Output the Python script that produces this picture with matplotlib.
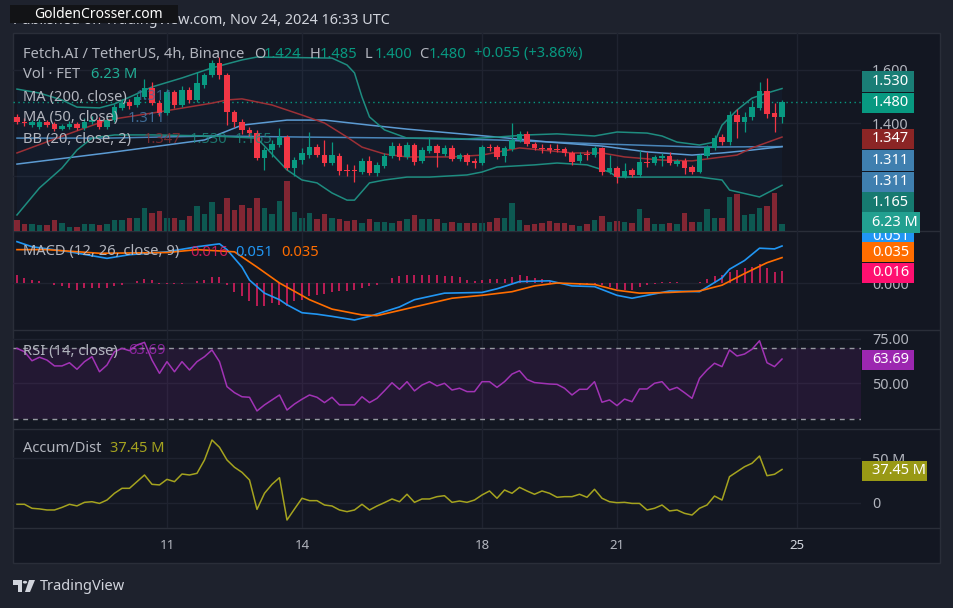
import matplotlib
matplotlib.use('Agg')
import matplotlib.pyplot as plt
from matplotlib.patches import Rectangle, Polygon, Circle
from matplotlib.lines import Line2D

plt.rcParams['font.family'] = ['Noto Sans', 'DejaVu Sans']

W, H = 954, 608
BG = '#131722'
FRAME = '#1E222D'
TEXT = '#B2B5BE'
UP = '#089981'
DOWN = '#F23645'
GRID = '#1F2330'
SEP = '#2A2E39'

# FET/USDT 4h candles, Nov 7 16:00 -> Nov 24 16:00
opens = [1.424, 1.405, 1.392, 1.384, 1.404, 1.396, 1.377, 1.385, 1.396, 1.381,
         1.404, 1.411, 1.385, 1.411, 1.457, 1.479, 1.468, 1.498, 1.532, 1.475,
         1.438, 1.517, 1.468, 1.525, 1.487, 1.543, 1.581, 1.626, 1.581, 1.442,
         1.404, 1.374, 1.362, 1.268, 1.298, 1.317, 1.347, 1.230, 1.260, 1.279,
         1.309, 1.279, 1.249, 1.276, 1.223, 1.223, 1.215, 1.257, 1.211, 1.238,
         1.276, 1.313, 1.272, 1.317, 1.257, 1.294, 1.313, 1.283, 1.306, 1.264,
         1.279, 1.257, 1.249, 1.309, 1.309, 1.276, 1.302, 1.336, 1.359, 1.321,
         1.306, 1.306, 1.302, 1.302, 1.287, 1.257, 1.283, 1.279, 1.306, 1.215,
         1.230, 1.196, 1.223, 1.204, 1.253, 1.249, 1.268, 1.276, 1.245, 1.257,
         1.234, 1.215, 1.276, 1.306, 1.347, 1.328, 1.430, 1.404, 1.423, 1.457,
         1.521, 1.438, 1.424]
highs = [1.434, 1.419, 1.411, 1.415, 1.411, 1.404, 1.396, 1.408, 1.404, 1.419,
         1.426, 1.423, 1.426, 1.472, 1.491, 1.491, 1.509, 1.566, 1.555, 1.487,
         1.528, 1.525, 1.540, 1.536, 1.592, 1.589, 1.638, 1.649, 1.589, 1.449,
         1.415, 1.385, 1.374, 1.309, 1.336, 1.381, 1.355, 1.272, 1.306, 1.366,
         1.321, 1.336, 1.328, 1.287, 1.245, 1.242, 1.268, 1.276, 1.253, 1.287,
         1.328, 1.325, 1.328, 1.325, 1.309, 1.347, 1.321, 1.317, 1.317, 1.287,
         1.287, 1.268, 1.317, 1.321, 1.317, 1.313, 1.400, 1.370, 1.370, 1.328,
         1.321, 1.321, 1.321, 1.309, 1.294, 1.291, 1.298, 1.313, 1.309, 1.279,
         1.238, 1.249, 1.230, 1.298, 1.291, 1.279, 1.287, 1.291, 1.264, 1.268,
         1.242, 1.283, 1.317, 1.355, 1.359, 1.445, 1.453, 1.442, 1.487, 1.555,
         1.570, 1.475, 1.485]
lows = [1.396, 1.389, 1.385, 1.377, 1.385, 1.370, 1.374, 1.377, 1.374, 1.374,
        1.396, 1.377, 1.377, 1.404, 1.449, 1.453, 1.460, 1.491, 1.468, 1.426,
        1.430, 1.457, 1.460, 1.475, 1.479, 1.532, 1.574, 1.566, 1.392, 1.385,
        1.359, 1.351, 1.260, 1.223, 1.272, 1.309, 1.223, 1.200, 1.245, 1.268,
        1.272, 1.238, 1.242, 1.204, 1.200, 1.177, 1.208, 1.204, 1.200, 1.230,
        1.268, 1.260, 1.264, 1.242, 1.249, 1.287, 1.234, 1.276, 1.257, 1.257,
        1.242, 1.230, 1.242, 1.294, 1.264, 1.253, 1.294, 1.328, 1.313, 1.298,
        1.287, 1.287, 1.291, 1.276, 1.242, 1.249, 1.260, 1.272, 1.204, 1.208,
        1.174, 1.192, 1.196, 1.196, 1.234, 1.242, 1.238, 1.242, 1.238, 1.208,
        1.208, 1.211, 1.268, 1.298, 1.317, 1.317, 1.343, 1.366, 1.411, 1.449,
        1.419, 1.366, 1.400]
closes = [1.405, 1.400, 1.404, 1.405, 1.392, 1.377, 1.389, 1.396, 1.381, 1.405,
          1.411, 1.385, 1.411, 1.462, 1.475, 1.464, 1.499, 1.532, 1.475, 1.438,
          1.517, 1.468, 1.525, 1.487, 1.551, 1.581, 1.626, 1.581, 1.442, 1.404,
          1.374, 1.362, 1.268, 1.298, 1.321, 1.347, 1.230, 1.260, 1.287, 1.309,
          1.279, 1.249, 1.279, 1.219, 1.219, 1.219, 1.257, 1.211, 1.242, 1.276,
          1.313, 1.272, 1.317, 1.253, 1.298, 1.313, 1.287, 1.306, 1.264, 1.279,
          1.253, 1.249, 1.309, 1.306, 1.272, 1.306, 1.336, 1.359, 1.321, 1.306,
          1.302, 1.298, 1.298, 1.287, 1.253, 1.279, 1.279, 1.306, 1.215, 1.230,
          1.196, 1.219, 1.204, 1.253, 1.249, 1.272, 1.276, 1.249, 1.257, 1.230,
          1.215, 1.279, 1.309, 1.343, 1.328, 1.430, 1.404, 1.423, 1.460, 1.521,
          1.434, 1.423, 1.480]
volumes = [9.5, 6.2, 6.2, 5.3, 5.3, 9.8, 7.1, 3.6, 3.6, 6.2,
           6.2, 5.3, 6.2, 9.8, 9.8, 11.6, 11.6, 20.5, 16.0, 17.8,
           11.6, 11.6, 9.8, 13.4, 22.3, 15.1, 25.8, 15.1, 29.4, 18.7,
           23.1, 20.5, 29.4, 20.5, 15.1, 26.7, 44.5, 16.9, 11.6, 16.0,
           10.7, 15.1, 11.6, 10.7, 8.9, 9.8, 7.1, 10.7, 8.0, 8.0,
           7.1, 8.9, 10.7, 14.2, 10.7, 10.7, 10.7, 7.1, 8.0, 7.1,
           7.1, 7.1, 7.4, 8.3, 11.8, 11.8, 25.2, 9.8, 5.3, 6.0,
           6.9, 8.9, 7.4, 7.4, 5.3, 4.5, 6.2, 9.8, 13.4, 8.3,
           8.9, 8.3, 6.9, 19.6, 11.8, 6.2, 6.2, 7.4, 6.2, 16.3,
           8.3, 8.3, 19.6, 11.8, 11.8, 30.5, 32.9, 14.2, 15.1, 20.7,
           22.5, 34.1, 6.23]

# overlay lines: (candle index, value)
bb_upper = [(0, 1.528), (3, 1.513), (6, 1.487), (8, 1.460), (11, 1.457), (13, 1.472),
            (18, 1.536), (22, 1.570), (26, 1.608), (30, 1.638), (32, 1.649), (42, 1.645),
            (44, 1.619), (45, 1.589), (46, 1.498), (47, 1.423), (49, 1.374), (52, 1.343),
            (56, 1.343), (60, 1.340), (64, 1.347), (68, 1.355), (72, 1.359), (77, 1.351),
            (80, 1.366), (84, 1.362), (86, 1.351), (88, 1.328), (91, 1.317), (93, 1.328),
            (94, 1.392), (96, 1.449), (98, 1.494), (100, 1.513), (102, 1.530)]
bb_basis = [(0, 1.287), (6, 1.350), (12, 1.411), (19, 1.442), (26, 1.475), (28, 1.487),
            (30, 1.491), (34, 1.468), (38, 1.430), (41, 1.400), (44, 1.347), (46, 1.309),
            (49, 1.283), (52, 1.272), (58, 1.272), (62, 1.279), (67, 1.306), (70, 1.298),
            (74, 1.287), (78, 1.287), (81, 1.272), (86, 1.260), (90, 1.257), (93, 1.268),
            (96, 1.279), (98, 1.306), (102, 1.347)]
bb_lower = [(0, 1.053), (3, 1.155), (6, 1.230), (8, 1.298), (10, 1.343), (13, 1.355),
            (18, 1.355), (26, 1.351), (32, 1.343), (36, 1.223), (38, 1.185), (40, 1.174),
            (42, 1.136), (44, 1.109), (45, 1.109), (47, 1.174), (49, 1.185), (52, 1.196),
            (55, 1.196), (60, 1.204), (62, 1.215), (64, 1.234), (69, 1.242), (72, 1.249),
            (76, 1.242), (79, 1.215), (80, 1.196), (86, 1.196), (91, 1.196), (94, 1.185),
            (95, 1.147), (99, 1.121), (102, 1.165)]
ma50 = [(0, 1.245), (12, 1.287), (25, 1.336), (30, 1.392), (36, 1.411), (41, 1.411),
        (47, 1.392), (52, 1.377), (64, 1.347), (71, 1.328), (78, 1.313), (84, 1.291),
        (90, 1.279), (94, 1.287), (98, 1.298), (102, 1.311)]
ma200 = [(0, 1.343), (12, 1.343), (26, 1.351), (38, 1.347), (52, 1.343), (64, 1.336),
         (78, 1.321), (91, 1.309), (102, 1.311)]

macd_line = [(0, 0.057), (2, 0.050), (7, 0.043), (12, 0.034), (15, 0.039), (20, 0.043),
             (24, 0.050), (27, 0.054), (28, 0.046), (30, 0.022), (31, 0.004), (33, -0.014),
             (35, -0.023), (36, -0.030), (38, -0.041), (40, -0.043), (42, -0.046), (45, -0.051),
             (47, -0.046), (51, -0.033), (53, -0.023), (57, -0.014), (62, -0.013), (64, -0.008),
             (67, 0.002), (71, 0.003), (74, -0.004), (77, -0.005), (80, -0.017), (82, -0.021),
             (85, -0.015), (87, -0.011), (91, -0.012), (94, 0.007), (95, 0.019), (97, 0.031),
             (99, 0.048), (101, 0.047), (102, 0.051)]
signal_line = [(0, 0.046), (4, 0.046), (11, 0.041), (20, 0.042), (24, 0.046), (29, 0.043),
               (32, 0.022), (35, 0.000), (39, -0.023), (42, -0.036), (46, -0.044), (48, -0.045),
               (53, -0.033), (58, -0.021), (62, -0.017), (66, -0.012), (69, -0.004), (72, 0.000),
               (77, -0.002), (80, -0.010), (83, -0.014), (87, -0.013), (91, -0.011), (94, -0.003),
               (97, 0.013), (100, 0.028), (102, 0.035)]
macd_hist = [0.0114, 0.0069, 0.0046, 0.0023, 0.0, -0.0023, -0.0046, -0.0069, -0.0092, -0.0069,
             -0.0069, -0.0069, -0.0069, -0.0046, -0.0023, 0.0, 0.0023, 0.0055, 0.0037, -0.001,
             -0.001, -0.001, -0.001, 0.0, 0.0023, 0.0037, 0.0083, 0.0083, -0.0023, -0.0128,
             -0.0183, -0.0252, -0.0321, -0.0321, -0.0276, -0.0299, -0.0313, -0.0252, -0.023, -0.0183,
             -0.0161, -0.0148, -0.0128, -0.0114, -0.0114, -0.0092, -0.0069, -0.0046, -0.0023, 0.0,
             0.0069, 0.0092, 0.0114, 0.0114, 0.0114, 0.0114, 0.0114, 0.0101, 0.0092, 0.0079,
             0.0046, 0.0032, 0.0037, 0.0051, 0.0051, 0.0059, 0.0083, 0.0106, 0.0092, 0.0069,
             0.0059, 0.0028, 0.0014, 0.0, -0.001, -0.0023, -0.0023, -0.0023, -0.0032, -0.0055,
             -0.0079, -0.0092, -0.0101, -0.0055, -0.0032, -0.001, 0.0014, 0.0014, 0.0014, 0.0,
             0.0, 0.0014, 0.0059, 0.0092, 0.0106, 0.0152, 0.0183, 0.0211, 0.0221, 0.0266,
             0.0211, 0.0152, 0.016]
rsi = [69.7, 67.8, 62.7, 64.7, 63.1, 59.8, 59.8, 61.6, 57.9, 62.2,
       65.0, 56.5, 60.3, 67.8, 69.7, 68.4, 71.6, 73.1, 63.1, 55.6,
       62.2, 56.5, 62.2, 57.5, 62.2, 65.0, 68.8, 62.2, 48.1, 44.7,
       42.4, 42.1, 34.4, 37.8, 40.6, 43.4, 34.9, 38.3, 41.0, 43.4,
       42.1, 39.1, 42.1, 37.8, 37.8, 37.8, 42.4, 39.1, 41.5, 45.8,
       50.3, 46.6, 50.9, 45.7, 49.0, 50.9, 48.5, 50.0, 46.2, 47.2,
       45.3, 45.3, 50.9, 50.9, 47.7, 50.9, 55.2, 57.1, 52.2, 50.4,
       50.0, 49.6, 49.4, 47.2, 43.4, 46.6, 46.6, 50.9, 39.3, 40.6,
       37.4, 41.1, 39.6, 46.8, 46.8, 50.0, 50.9, 46.2, 47.7, 44.7,
       41.5, 52.8, 57.5, 61.3, 59.4, 68.8, 65.4, 66.5, 69.2, 74.0,
       61.6, 59.4, 63.69]
accum_dist = [-1.8, -1.8, -6.3, -7.0, -8.2, -8.2, -5.3, -1.8, -3.6, 0.4,
              1.1, -0.8, 3.0, 10.6, 16.2, 16.2, 23.7, 31.2, 20.7, 20.0,
              26.3, 23.7, 32.3, 31.2, 33.1, 48.1, 70.6, 62.4, 48.1, 39.9,
              34.2, 25.6, -7.5, 10.6, 20.7, 28.2, -19.5, -7.1, 5.0, 2.3,
              2.3, -2.6, -3.7, -8.2, -10.1, -8.2, -1.8, -8.2, -3.7, 0.1,
              4.2, 1.1, 9.5, 0.4, 4.2, 4.2, 6.8, 7.9, 0.4, 1.9,
              0.4, 3.0, 8.7, 13.2, 5.0, 14.3, 10.6, 17.3, 13.2, 9.5,
              13.2, 10.6, 6.1, 6.8, 6.8, 9.5, 6.1, 15.1, 5.0, 1.1,
              0.0, 0.4, -0.8, -0.8, -8.2, -6.3, -2.6, -9.3, -8.2, -12.0,
              -13.9, -6.3, -2.6, 7.5, 3.0, 29.3, 34.9, 40.5, 44.4, 52.6,
              30.4, 32.0, 37.45]

day_ticks = [20, 38, 62, 80, 104]
day_labels = ['11', '14', '18', '21', '25']


def fx(x):
    return x / W


def fy(y):
    return 1 - y / H


fig = plt.figure(figsize=(W / 100, H / 100), dpi=100, facecolor=FRAME)
fig.add_artist(Rectangle((fx(13), fy(563)), fx(940) - fx(13), (563 - 33) / H,
                         transform=fig.transFigure, facecolor=BG, edgecolor=SEP,
                         lw=1, zorder=-10))
for y in [231, 330, 429, 528]:
    fig.add_artist(Line2D([fx(13), fx(940)], [fy(y), fy(y)], color=SEP, lw=1,
                          transform=fig.transFigure, zorder=-5))


def pane(y0, y1, sharex=None):
    ax = fig.add_axes([fx(13), fy(y1), fx(861) - fx(13), (y1 - y0) / H],
                      sharex=sharex)
    ax.set_facecolor('none')
    for s in ax.spines.values():
        s.set_visible(False)
    ax.tick_params(length=0, labelsize=10.3, labelcolor=TEXT, pad=8)
    ax.yaxis.tick_right()
    ax.set_xticks(day_ticks)
    ax.grid(True, color=GRID, lw=1)
    ax.set_axisbelow(True)
    return ax


ax_vol = pane(33, 231)
ax_vol.grid(False)
ax_vol.set_yticks([])
ax_main = pane(33, 231, sharex=ax_vol)
ax_macd = pane(231, 330, sharex=ax_vol)
ax_rsi = pane(330, 429, sharex=ax_vol)
ax_ad = pane(429, 528, sharex=ax_vol)
ax_vol.set_xlim(-0.53, 112.53)
for ax in [ax_vol, ax_main, ax_macd, ax_rsi]:
    ax.tick_params(labelbottom=False)

n = len(closes)
idx = list(range(n))
cols = [UP if c >= o else DOWN for o, c in zip(opens, closes)]

# volume
ax_vol.bar(idx, volumes, width=0.78, color=cols, alpha=0.5)
ax_vol.set_ylim(0, 176)

# bollinger fill + lines, moving averages
fill_x = [p[0] for p in bb_upper] + [p[0] for p in bb_lower][::-1]
fill_y = [p[1] for p in bb_upper] + [p[1] for p in bb_lower][::-1]
ax_main.fill(fill_x, fill_y, color='#2196F3', alpha=0.04, lw=0)
for pts, col, lw in [(ma200, '#4A86BA', 1.1), (ma50, '#5C9BD3', 1.1),
                     (bb_upper, '#1E8C80', 1.1), (bb_lower, '#1E8C80', 1.1),
                     (bb_basis, '#9C3036', 1.1)]:
    ax_main.plot([p[0] for p in pts], [p[1] for p in pts], color=col, lw=lw, zorder=2)

# candles
ax_main.vlines(idx, lows, highs, colors=cols, lw=0.9, zorder=3)
bottoms = [min(o, c) for o, c in zip(opens, closes)]
bodies = [max(abs(c - o), 0.003) for o, c in zip(opens, closes)]
ax_main.bar(idx, bodies, bottom=bottoms, width=0.7, color=cols, zorder=4)
ax_main.axhline(closes[-1], color=UP, lw=1, ls=(0, (1, 2.5)), zorder=1)
ax_main.set_ylim(0.9925, 1.7396)
ax_main.set_yticks([1.2, 1.4, 1.6], ['', '1.400', '1.600'])

# MACD
ax_macd.vlines(idx, 0, macd_hist, colors='#E91E63', lw=1.1)
ax_macd.plot([p[0] for p in macd_line], [p[1] for p in macd_line], color='#2196F3', lw=1.2)
ax_macd.plot([p[0] for p in signal_line], [p[1] for p in signal_line], color='#FF6D00', lw=1.2)
ax_macd.set_ylim(-0.0648, 0.0717)
ax_macd.set_yticks([0], ['0.000'])

# RSI
ax_rsi.axhspan(30, 70, color='#9C27B0', alpha=0.12, lw=0)
for lvl in [70, 30]:
    ax_rsi.axhline(lvl, color='#9598A1', lw=1, ls=(0, (3.5, 3.5)))
ax_rsi.plot(idx, rsi, color='#A133B5', lw=1.1)
ax_rsi.set_ylim(24.2, 80.07)
ax_rsi.set_yticks([50, 75], ['50.00', '75.00'])

# Accumulation / Distribution
ax_ad.plot(idx, accum_dist, color='#A5A31F', lw=1.1)
ax_ad.set_ylim(-28.5, 83.0)
ax_ad.set_yticks([0, 50], ['0', '50 M'])
ax_ad.set_xticklabels(day_labels)
ax_ad.tick_params(axis='x', labelsize=9.5, pad=8)
ax_ad.get_xticklabels()[-1].set_color('#D1D4DC')


def ftext(x, y, s, color=TEXT, size=10.6, **kw):
    fig.text(fx(x), fy(y), s, color=color, fontsize=size, va='center', ha='left', **kw)


# legends
ftext(23, 54, 'Fetch.AI / TetherUS, 4h, Binance')
for x, s, c in [(254, 'O', TEXT), (264, '1.424', UP), (310, 'H', TEXT), (320, '1.485', UP),
                (365, 'L', TEXT), (375, '1.400', UP), (419, 'C', TEXT), (429, '1.480', UP),
                (474, '+0.055 (+3.86%)', UP)]:
    ftext(x, 54, s, color=c)
ftext(23, 75, 'Vol · FET')
ftext(91, 75, '6.23 M', color='#22AB94')
ftext(23, 97, 'MA (200, close)')
ftext(136, 97, '1.311', color='#3F6F9C', alpha=0.8)
ftext(23, 118, 'MA (50, close)')
ftext(128, 118, '1.311', color='#4A7FB0', alpha=0.8)
ftext(23, 139, 'BB (20, close, 2)')
ftext(144, 139, '1.347', color='#8E2E33', alpha=0.8)
ftext(190, 139, '1.530', color='#1E8C80', alpha=0.8)
ftext(235, 139, '1.165', color='#1E8C80', alpha=0.8)
ftext(23, 252, 'MACD (12, 26, close, 9)')
ftext(190, 252, '0.016', color='#E91E63', alpha=0.85)
ftext(235, 252, '0.051', color='#2196F3')
ftext(281, 252, '0.035', color='#FF6D00')
ftext(23, 351, 'RSI (14, close)')
ftext(128, 351, '63.69', color='#9C27B0', alpha=0.85)
ftext(23, 449, 'Accum/Dist')
ftext(110, 449, '37.45 M', color='#A5A31F')


def tag(y, s, color, right=914, z=5):
    fig.add_artist(Rectangle((fx(862), fy(y + 10)), fx(right) - fx(862), 20 / H,
                             transform=fig.transFigure, facecolor=color,
                             edgecolor='none', zorder=z))
    fig.text(fx(872), fy(y), s, color='white', fontsize=10.5, va='center', ha='left',
             zorder=z + 0.5)


tag(237, '0.051', '#2196F3', z=5)
for k, (y, s, c, r) in enumerate([(81.5, '1.530', '#1A7E76', 914), (103, '1.480', UP, 914),
                                  (138.5, '1.347', '#8B2525', 914), (160.5, '1.311', '#3F7FAF', 914),
                                  (181.5, '1.311', '#3F7FAF', 914), (202.5, '1.165', '#167A70', 914),
                                  (222.5, '6.23 M', '#22A090', 920), (252, '0.035', '#FF6D00', 914),
                                  (273, '0.016', '#FF1070', 914), (359.5, '63.69', '#9C27B0', 914),
                                  (470.7, '37.45 M', '#999915', 927)]):
    tag(y, s, c, right=r, z=6 + k)

# header
ftext(13, 20, 'Published on TradingView.com, Nov 24, 2024 16:33 UTC', color='#D1D4DC', size=10.4)
fig.add_artist(Rectangle((fx(10), fy(23)), fx(178) - fx(10), 18 / H, transform=fig.transFigure,
                         facecolor='#121316', edgecolor='none', zorder=30))
fig.text(fx(34), fy(14), 'GoldenCrosser.com', color='white', fontsize=10, fontweight='bold',
         va='center', ha='left', zorder=31)

# footer logo
logo = '#D1D4DC'
fig.add_artist(Polygon([(fx(13), fy(580)), (fx(22), fy(580)), (fx(22), fy(592)), (fx(17.5), fy(592)),
                        (fx(17.5), fy(584.5)), (fx(13), fy(584.5))], closed=True,
                       transform=fig.transFigure, facecolor=logo, edgecolor='none'))
fig.add_artist(Circle((fx(25), fy(582.2)), 2.2 / W, transform=fig.transFigure,
                      facecolor=logo, edgecolor='none'))
fig.add_artist(Polygon([(fx(29), fy(580)), (fx(35), fy(580)), (fx(30), fy(592)), (fx(25), fy(592))],
                       closed=True, transform=fig.transFigure, facecolor=logo, edgecolor='none'))
ftext(40, 586, 'TradingView', color=logo, size=10.5)

fig.savefig('out.png', dpi=100, facecolor=FRAME)
